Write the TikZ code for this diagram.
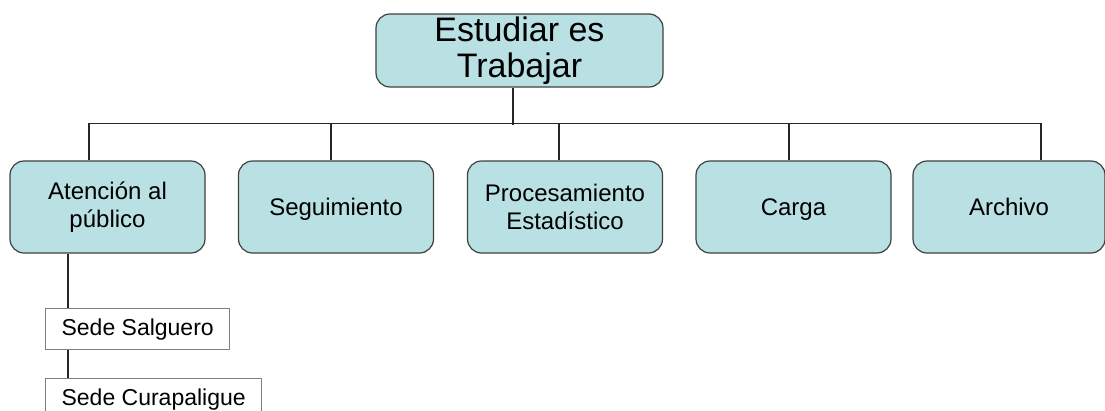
\documentclass[tikz,border=0pt]{standalone}
\usepackage{fontspec}
\setmainfont{Liberation Sans}
\usetikzlibrary{calc}

\definecolor{cajafondo}{RGB}{185,224,227}
\definecolor{cajaborde}{RGB}{64,64,64}

\begin{document}
\begin{tikzpicture}[x=1pt,y=-1pt,
	caja/.style={draw=cajaborde,fill=cajafondo,rounded corners=14pt,line width=1.2pt,minimum width=195pt,minimum height=92pt,inner sep=0pt,align=center,font=\fontsize{24}{28}\selectfont},
	una/.style={text height=16pt,text depth=0pt},
	sede/.style={draw=gray,line width=1.2pt,minimum height=41pt,inner xsep=16pt,inner ysep=0pt,anchor=north west,font=\fontsize{23}{27}\selectfont},
	linea/.style={line width=1.2pt,color=black!85}]
	\useasboundingbox (0,0) rectangle (1105,410);
	% raiz
	\node[caja,minimum width=287pt,minimum height=73pt,font=\fontsize{34}{36}\selectfont] (raiz) at (519.5,50.5) {Estudiar es\\Trabajar};
	% areas
	\node[caja] (b1) at (107.5,207) {Atención al\\público};
	\node[caja,una] (b2) at (336,207) {Seguimiento};
	\node[caja] (b3) at (565,207) {Procesamiento\\Estadístico};
	\node[caja,una] (b4) at (793.5,207) {Carga};
	\node[caja,una,minimum width=192pt] (b5) at (1009,207) {Archivo};
	% sedes
	\node[sede] (s1) at (45,308) {Sede Salguero};
	\node[sede] (s2) at (45,378) {Sede Curapaligue};
	% conectores
	\draw[linea] ([xshift=-6.5pt]raiz.south) -- ++(0,37);
	\draw[linea] ([xshift=-18.5pt]b1.north) -- ++(0,-37) -| ([xshift=32pt]b5.north);
	\foreach \n/\d in {b2/-5,b3/-6,b4/-4.5}
		\draw[linea] ([xshift=\d pt]\n.north) -- ++(0,-37);
	\draw[linea] ([xshift=-39.5pt]b1.south) -- (s1.north west -| {68,0});
	\draw[linea] (s1.south west -| {68,0}) -- (s2.north west -| {68,0});
\end{tikzpicture}
\end{document}
